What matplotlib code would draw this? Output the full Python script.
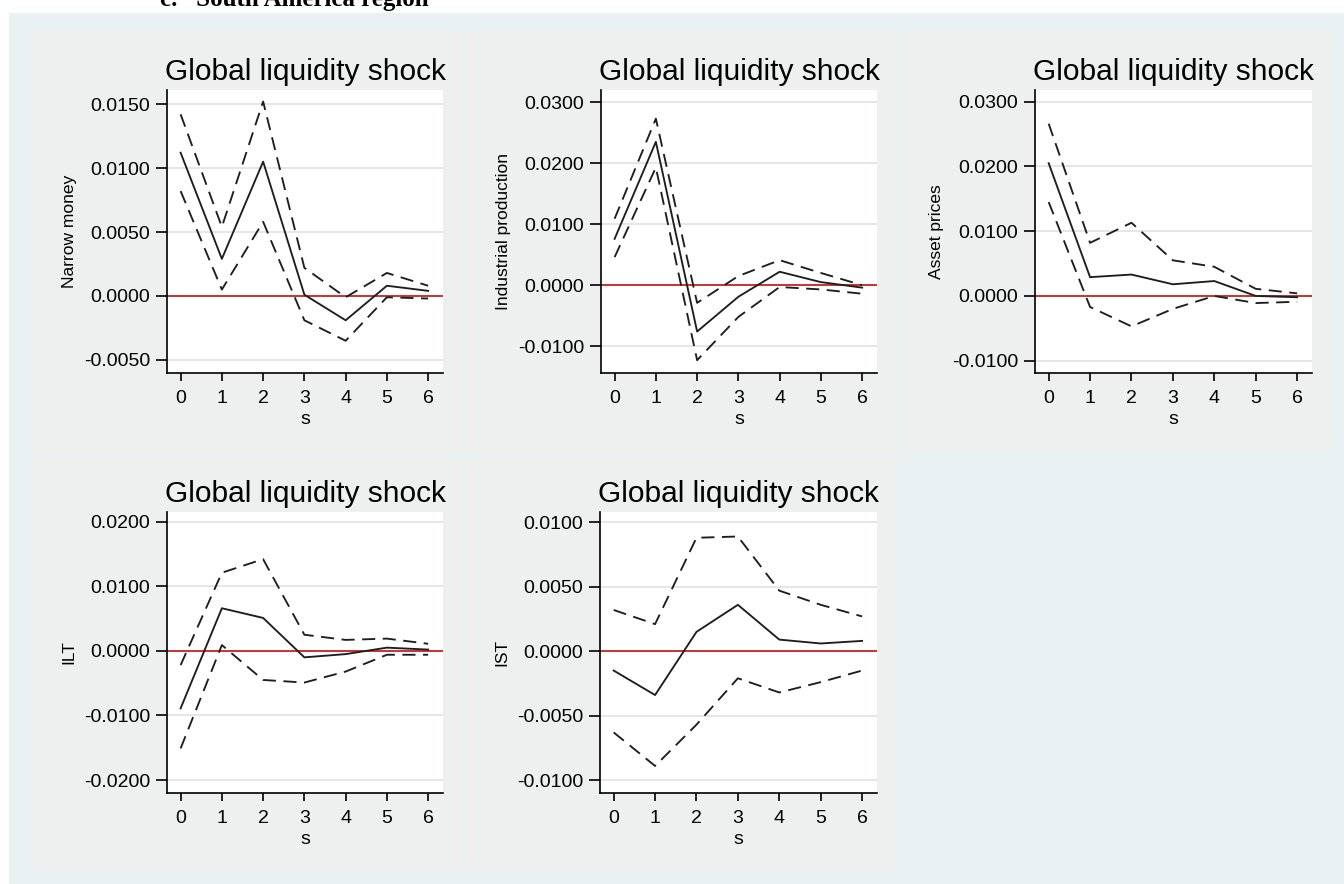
import numpy as np
import matplotlib.pyplot as plt
from matplotlib.patches import Rectangle

plt.rcParams['font.family'] = ['Liberation Sans', 'DejaVu Sans']
plt.rcParams['axes.unicode_minus'] = False

W, H = 1344, 884

steps = [0, 1, 2, 3, 4, 5, 6]

# narrow money
nm_irf = [0.0112, 0.0029, 0.0105, 0.0001, -0.0019, 0.0008, 0.0004]
nm_hi = [0.0142, 0.0054, 0.0152, 0.0022, -0.0001, 0.0018, 0.0008]
nm_lo = [0.0082, 0.0005, 0.0058, -0.0019, -0.0035, -0.0001, -0.0002]

# industrial production
ip_irf = [0.0076, 0.0235, -0.0076, -0.0019, 0.0022, 0.0005, -0.0004]
ip_hi = [0.0109, 0.0273, -0.0029, 0.0015, 0.0041, 0.0020, 0.0000]
ip_lo = [0.0046, 0.0193, -0.0123, -0.0052, -0.0003, -0.0007, -0.0014]

# asset prices
ap_irf = [0.0205, 0.0029, 0.0033, 0.0018, 0.0023, 0.0000, -0.0002]
ap_hi = [0.0266, 0.0082, 0.0113, 0.0055, 0.0045, 0.0011, 0.0004]
ap_lo = [0.0145, -0.0017, -0.0047, -0.0020, 0.0000, -0.0011, -0.0009]

# long term rate
ilt_irf = [-0.0089, 0.0066, 0.0051, -0.0010, -0.0005, 0.0005, 0.0002]
ilt_hi = [-0.0022, 0.0121, 0.0142, 0.0025, 0.0017, 0.0019, 0.0011]
ilt_lo = [-0.0151, 0.0009, -0.0045, -0.0049, -0.0032, -0.0006, -0.0006]

# short term rate
ist_irf = [-0.0015, -0.0034, 0.0015, 0.0036, 0.0009, 0.0006, 0.0008]
ist_hi = [0.0032, 0.0021, 0.0088, 0.0089, 0.0047, 0.0036, 0.0027]
ist_lo = [-0.0063, -0.0089, -0.0057, -0.0021, -0.0032, -0.0024, -0.0015]

ylabels = ['Narrow money', 'Industrial production', 'Asset prices', 'ILT', 'IST']
yticks = [[-0.005, 0, 0.005, 0.01, 0.015],
          [-0.01, 0, 0.01, 0.02, 0.03],
          [-0.01, 0, 0.01, 0.02, 0.03],
          [-0.02, -0.01, 0, 0.01, 0.02],
          [-0.01, -0.005, 0, 0.005, 0.01]]
ylims = [(-0.00602, 0.0161), (-0.0144, 0.0320), (-0.0119, 0.0318),
         (-0.0220, 0.0215), (-0.0110, 0.0108)]
series = [(nm_irf, nm_hi, nm_lo), (ip_irf, ip_hi, ip_lo), (ap_irf, ap_hi, ap_lo),
          (ilt_irf, ilt_hi, ilt_lo), (ist_irf, ist_hi, ist_lo)]

# plot areas in pixels (left, top, right, bottom)
boxes = [(167, 90, 443, 373), (601, 90, 877, 373), (1035, 90, 1312, 373),
         (167, 512, 443, 793), (600, 512, 877, 793)]
# grey sub-graph regions
regions = [(31, 30, 462, 453), (466, 30, 897, 453), (901, 30, 1332, 453),
           (31, 457, 462, 872), (466, 457, 897, 872)]


def frac(x0, y0, x1, y1):
    return [x0 / W, 1 - y1 / H, (x1 - x0) / W, (y1 - y0) / H]


fig = plt.figure(figsize=(W / 100, H / 100), dpi=100, facecolor='white')
fig.patches.append(Rectangle((9 / W, 0), 1 - 9 / W, 1 - 13 / H, transform=fig.transFigure,
                             facecolor='#e9f1f3', edgecolor='none', zorder=-10))
for r in regions:
    f = frac(*r)
    fig.patches.append(Rectangle((f[0], f[1]), f[2], f[3], transform=fig.transFigure,
                                 facecolor='#eeefef', edgecolor='none', zorder=-9))

# page heading, cut off at the top edge as in the scan
fig.text(160 / W, 1 - 6 / H, 'c.   South America region', fontsize=18, fontweight='bold',
         family='Liberation Serif', va='baseline', ha='left')

for i in range(5):
    ax = fig.add_axes(frac(*boxes[i]))
    ax.set_facecolor('white')
    irf, hi, lo = series[i]
    for t in yticks[i]:
        ax.axhline(t, color='#e4e4e4', lw=1.3, zorder=0)
    ax.axhline(0, color='#cc2222', lw=1.3, zorder=1)
    ax.plot(steps, irf, color='#1e1e1e', lw=1.35, zorder=3)
    ax.plot(steps, hi, color='#1e1e1e', lw=1.35, dashes=(7, 4), zorder=3)
    ax.plot(steps, lo, color='#1e1e1e', lw=1.35, dashes=(7, 4), zorder=3)

    ax.set_xlim(-0.33, 6.36)
    ax.set_ylim(*ylims[i])
    ax.set_xticks(steps)
    ax.set_yticks(yticks[i])
    ax.set_yticklabels(['%.4f' % v if v != 0 else '0.0000' for v in yticks[i]])
    ax.spines['top'].set_visible(False)
    ax.spines['right'].set_visible(False)
    ax.spines['left'].set_linewidth(1.2)
    ax.spines['bottom'].set_linewidth(1.2)
    ax.tick_params(axis='y', length=8, width=1.2, pad=4, labelsize=14)
    ax.tick_params(axis='x', length=6, width=1.2, pad=6, labelsize=14)

    ax.set_title('Global liquidity shock', fontsize=21.5, pad=7)
    ax.set_ylabel(ylabels[i], fontsize=12.5, va='center')
    ax.yaxis.set_label_coords(-0.355, 0.5)
    ax.set_xlabel('s', fontsize=14, va='center')
    ax.xaxis.set_label_coords(0.5, -0.165)

fig.savefig('out.png', dpi=100)
